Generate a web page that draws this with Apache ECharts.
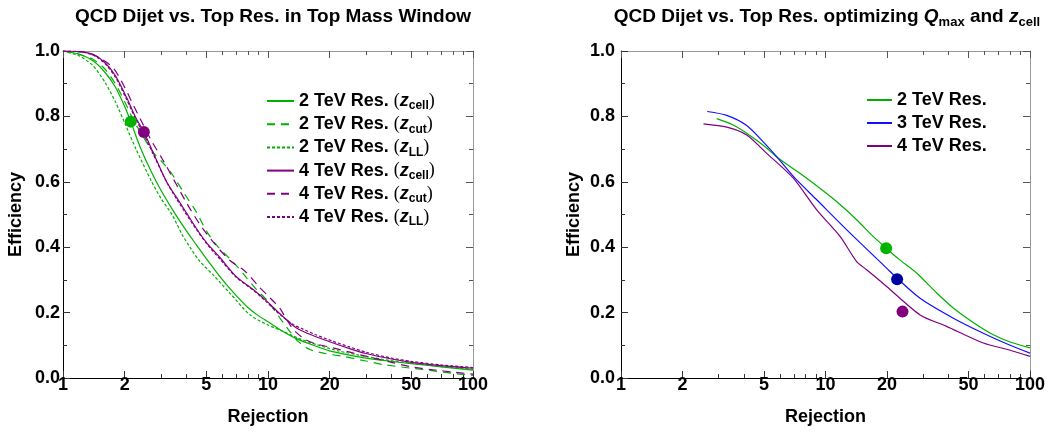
<!DOCTYPE html>
<html>
<head>
<meta charset="utf-8">
<script src="https://cdn.jsdelivr.net/npm/echarts@6/dist/echarts.min.js"></script>
<style>html,body{margin:0;padding:0;background:#fff}#c{width:1048px;height:437px}</style>
</head>
<body>
<div id="c"></div>
<script>
// ---------- tick values ----------
const xMajorTicks = [1, 2, 5, 10, 20, 50, 100];
const xMinorTicks = [3, 4, 6, 7, 8, 9, 30, 40, 60, 70, 80, 90];

// ---------- left panel: [rejection, efficiency] ----------
const g2Cell = [[1,1.0],[1.2,0.99],[1.4,0.97],[1.6,0.935],[1.8,0.89],[2.0,0.83],[2.14,0.784],[2.4,0.70],[2.7,0.63],[3.0,0.575],[3.5,0.505],[4.0,0.45],[4.5,0.405],[5.0,0.365],[6.0,0.30],[7.0,0.252],[8.0,0.215],[9.0,0.19],[10,0.172],[12,0.14],[14,0.118],[17,0.098],[20,0.083],[25,0.07],[30,0.061],[40,0.051],[50,0.044],[70,0.034],[100,0.024]];
const g2Cut = [[1,1.0],[1.2,0.99],[1.4,0.975],[1.6,0.945],[1.8,0.9],[2.0,0.845],[2.2,0.79],[2.45,0.74],[2.75,0.69],[3.05,0.66],[3.35,0.63],[3.9,0.565],[4.49,0.506],[5.0,0.45],[5.6,0.407],[6.5,0.365],[7.1,0.34],[7.9,0.305],[8.8,0.27],[9.86,0.239],[10.8,0.205],[11.9,0.168],[12.8,0.142],[14,0.112],[16,0.087],[19,0.075],[23.3,0.066],[30,0.052],[36.5,0.041],[50,0.03],[64,0.022],[80,0.014],[100,0.008]];
const g2LL = [[1,1.0],[1.2,0.985],[1.4,0.955],[1.6,0.905],[1.8,0.845],[2.0,0.78],[2.27,0.70],[2.71,0.60],[3.0,0.55],[3.4,0.50],[3.8,0.44],[4.16,0.40],[4.66,0.356],[5.5,0.31],[6.5,0.26],[8.17,0.193],[10,0.162],[11.9,0.142],[14,0.122],[17.3,0.102],[22,0.083],[30,0.066],[40,0.053],[50,0.045],[70,0.035],[100,0.026]];
const p4Cell = [[1,1.0],[1.2,0.998],[1.4,0.99],[1.6,0.965],[1.8,0.925],[2.05,0.856],[2.25,0.80],[2.48,0.752],[2.75,0.69],[3.2,0.6],[3.6,0.55],[4.0,0.505],[4.5,0.455],[5.0,0.415],[5.8,0.37],[7.0,0.31],[8.5,0.27],[9.86,0.235],[11.5,0.195],[13.3,0.16],[14.5,0.145],[17,0.127],[20.8,0.107],[25,0.09],[30,0.075],[40,0.058],[50,0.048],[70,0.038],[100,0.03]];
const p4Cut = [[1,1.0],[1.3,0.995],[1.5,0.98],[1.76,0.948],[1.97,0.897],[2.16,0.846],[2.37,0.795],[2.71,0.724],[3.03,0.673],[3.2,0.647],[4.01,0.535],[4.66,0.469],[5.5,0.41],[6.5,0.36],[7.6,0.33],[8.2,0.31],[9.0,0.28],[9.86,0.255],[11.4,0.214],[12.3,0.18],[13.3,0.148],[15,0.12],[17,0.105],[20.8,0.092],[30.3,0.066],[40,0.048],[49.3,0.035],[64,0.025],[80,0.018],[100,0.012]];
const p4LL = [[1,1.0],[1.2,0.998],[1.4,0.988],[1.6,0.962],[1.8,0.92],[2.05,0.85],[2.25,0.795],[2.5,0.74],[2.75,0.685],[3.2,0.6],[3.6,0.545],[4.0,0.5],[4.5,0.452],[5.0,0.412],[5.8,0.365],[7.0,0.308],[8.5,0.268],[9.86,0.232],[11.5,0.193],[13.3,0.163],[14.5,0.152],[17,0.133],[20.8,0.112],[25,0.095],[30,0.079],[40,0.061],[50,0.051],[70,0.04],[100,0.032]];
const leftDots = [[2.14, 0.784], [2.48, 0.752]];

// ---------- right panel ----------
const r2TeV = [[2.94,0.793],[3.5,0.775],[4.2,0.745],[5.0,0.71],[5.77,0.676],[7.5,0.626],[10.1,0.565],[11.55,0.535],[14.2,0.484],[17.1,0.433],[19.8,0.397],[23,0.362],[27.9,0.321],[35,0.26],[42,0.215],[51.9,0.173],[66.2,0.132],[80,0.11],[100,0.092]];
const r3TeV = [[2.64,0.815],[3.29,0.803],[4.12,0.772],[5.0,0.72],[5.77,0.677],[7.0,0.615],[9.06,0.545],[13.2,0.443],[19.9,0.336],[22.4,0.305],[29,0.244],[42.2,0.183],[59.1,0.137],[80,0.1],[100,0.076]];
const r4TeV = [[2.53,0.777],[3.29,0.767],[4.12,0.743],[5.16,0.687],[6.96,0.611],[9.06,0.514],[11.78,0.433],[14.2,0.356],[15.9,0.331],[19.9,0.28],[29,0.193],[39.1,0.158],[59.1,0.107],[80,0.085],[100,0.066]];
const rightDots = [[19.8, 0.397], [22.4, 0.302], [23.8, 0.203]];

const leftNames = ['2 TeV Res. (zcell)','2 TeV Res. (zcut)','2 TeV Res. (zLL)','4 TeV Res. (zcell)','4 TeV Res. (zcut)','4 TeV Res. (zLL)'];
const rightNames = ['2 TeV Res.','3 TeV Res.','4 TeV Res.'];

const FONT = "'Liberation Sans', Arial, Helvetica, sans-serif";
const GREEN = '#00b000', PURPLE = '#800080', BLUE = '#1010ff';

const richText = {
  b: {fontFamily: FONT, fontWeight: 'bold', fontSize: 18, lineHeight: 22, color: '#000'},
  p: {fontFamily: "'Liberation Serif', serif", fontSize: 18, lineHeight: 22, color: '#000'},
  i: {fontFamily: FONT, fontWeight: 'bold', fontStyle: 'italic', fontSize: 18, lineHeight: 22, color: '#000'},
  s: {fontFamily: FONT, fontWeight: 'bold', fontSize: 12, lineHeight: 12, padding: [10, 0, 0, 0], color: '#000'}
};

function xAxes(gridIndex) {
  const base = {type: 'log', logBase: 10, gridIndex: gridIndex, min: 1, max: 100, splitLine: {show: false}, minorSplitLine: {show: false}};
  return [
    Object.assign({}, base, {position: 'bottom',
      axisLine: {show: true, lineStyle: {color: '#000', width: 1}},
      axisTick: {show: true, inside: true, length: 7, customValues: xMajorTicks, lineStyle: {color: '#333'}},
      axisLabel: {show: true, customValues: xMajorTicks, margin: -2, color: '#000', fontFamily: FONT, fontWeight: 'bold', fontSize: 18, hideOverlap: false, showMinLabel: true, showMaxLabel: true},
      name: 'Rejection', nameLocation: 'middle', nameGap: 30,
      nameTextStyle: {color: '#000', fontFamily: FONT, fontWeight: 'bold', fontSize: 18}}),
    Object.assign({}, base, {position: 'bottom', axisLine: {show: false},
      axisTick: {show: true, inside: true, length: 4, customValues: xMinorTicks, lineStyle: {color: '#333'}},
      axisLabel: {show: false}}),
    Object.assign({}, base, {position: 'top',
      axisLine: {show: true, lineStyle: {color: '#999', width: 1}},
      axisTick: {show: true, inside: true, length: 7, customValues: xMajorTicks, lineStyle: {color: '#555'}},
      axisLabel: {show: false}}),
    Object.assign({}, base, {position: 'top', axisLine: {show: false},
      axisTick: {show: true, inside: true, length: 4, customValues: xMinorTicks, lineStyle: {color: '#555'}},
      axisLabel: {show: false}})
  ];
}
function yAxes(gridIndex, margin) {
  const base = {type: 'value', gridIndex: gridIndex, min: 0, max: 1, interval: 0.2, splitLine: {show: false}, minorSplitLine: {show: false}};
  return [
    Object.assign({}, base, {position: 'left',
      axisLine: {show: true, lineStyle: {color: '#000', width: 1}},
      axisTick: {show: true, inside: true, length: 7, lineStyle: {color: '#333'}},
      minorTick: {show: true, splitNumber: 2, length: 4, lineStyle: {color: '#333'}},
      axisLabel: {show: true, margin: margin, color: '#000', fontFamily: FONT, fontWeight: 'bold', fontSize: 18, formatter: v => v.toFixed(1)},
      name: 'Efficiency', nameLocation: 'middle', nameGap: 38,
      nameTextStyle: {color: '#000', fontFamily: FONT, fontWeight: 'bold', fontSize: 18}}),
    Object.assign({}, base, {position: 'right',
      axisLine: {show: true, lineStyle: {color: '#999', width: 1}},
      axisTick: {show: true, inside: true, length: 7, lineStyle: {color: '#555'}},
      minorTick: {show: true, splitNumber: 2, length: 4, lineStyle: {color: '#555'}},
      axisLabel: {show: false}})
  ];
}

function lineSeries(name, data, color, dash, xi, yi) {
  return {type: 'line', name: name, data: data, xAxisIndex: xi, yAxisIndex: yi,
    symbol: 'none', showSymbol: false, smooth: 0.25, animation: false,
    lineStyle: {color: color, width: 1.2, type: dash}, itemStyle: {color: color}, z: 2};
}

const leftLabels = {
  '2 TeV Res. (zcell)': '{b|2 TeV Res. }{p|(}{i|z}{s|cell}{p|)}',
  '2 TeV Res. (zcut)': '{b|2 TeV Res. }{p|(}{i|z}{s|cut}{p|)}',
  '2 TeV Res. (zLL)': '{b|2 TeV Res. }{p|(}{i|z}{s|LL}{p|)}',
  '4 TeV Res. (zcell)': '{b|4 TeV Res. }{p|(}{i|z}{s|cell}{p|)}',
  '4 TeV Res. (zcut)': '{b|4 TeV Res. }{p|(}{i|z}{s|cut}{p|)}',
  '4 TeV Res. (zLL)': '{b|4 TeV Res. }{p|(}{i|z}{s|LL}{p|)}'
};

const LONG = [8, 6], SHORT = [3, 2];
const series = [
  lineSeries(leftNames[0], g2Cell, GREEN, 'solid', 0, 0),
  lineSeries(leftNames[1], g2Cut, GREEN, LONG, 0, 0),
  lineSeries(leftNames[2], g2LL, GREEN, SHORT, 0, 0),
  lineSeries(leftNames[3], p4Cell, PURPLE, 'solid', 0, 0),
  lineSeries(leftNames[4], p4Cut, PURPLE, LONG, 0, 0),
  lineSeries(leftNames[5], p4LL, PURPLE, SHORT, 0, 0),
  {type: 'scatter', name: 'leftDots', xAxisIndex: 0, yAxisIndex: 0, symbolSize: 12, animation: false, z: 5,
    data: [{value: leftDots[0], itemStyle: {color: '#00b400', opacity: 1}}, {value: leftDots[1], itemStyle: {color: '#800080', opacity: 1}}]},
  lineSeries(rightNames[0], r2TeV, GREEN, 'solid', 4, 2),
  lineSeries(rightNames[1], r3TeV, BLUE, 'solid', 4, 2),
  lineSeries(rightNames[2], r4TeV, PURPLE, 'solid', 4, 2),
  {type: 'scatter', name: 'rightDots', xAxisIndex: 4, yAxisIndex: 2, symbolSize: 12, animation: false, z: 5,
    data: [{value: rightDots[0], itemStyle: {color: '#00b400', opacity: 1}}, {value: rightDots[1], itemStyle: {color: '#0000a0', opacity: 1}}, {value: rightDots[2], itemStyle: {color: '#800080', opacity: 1}}]}
];

const chart = echarts.init(document.getElementById('c'), null, {renderer: 'canvas'});
chart.setOption({
  animation: false,
  backgroundColor: '#fff',
  title: [
    {text: 'QCD Dijet vs. Top Res. in Top Mass Window', left: 268, top: 2, textAlign: 'center',
      textStyle: {fontFamily: FONT, fontWeight: 'bold', fontSize: 19, color: '#000'}},
    {text: '{b|QCD Dijet vs. Top Res. optimizing }{i|Q}{s|max}{b| and }{i|z}{s|cell}', left: 822, top: 1, textAlign: 'center',
      textStyle: {rich: {
        b: {fontFamily: FONT, fontWeight: 'bold', fontSize: 19, lineHeight: 22, color: '#000'},
        i: {fontFamily: FONT, fontWeight: 'bold', fontStyle: 'italic', fontSize: 19, lineHeight: 22, color: '#000'},
        s: {fontFamily: FONT, fontWeight: 'bold', fontSize: 13, lineHeight: 13, padding: [10, 0, 0, 0], color: '#000'}}}}
  ],
  grid: [
    {left: 63, top: 51, width: 410, height: 327, containLabel: false},
    {left: 621, top: 51, width: 409, height: 327, containLabel: false}
  ],
  xAxis: xAxes(0).concat(xAxes(1)),
  yAxis: yAxes(0, 3).concat(yAxes(1, 6)),
  legend: [
    {data: leftNames, orient: 'vertical', left: 266, top: 90, padding: 0, itemWidth: 27, itemHeight: 12, itemGap: 1.2,
      itemStyle: {opacity: 0, borderWidth: 0}, formatter: n => leftLabels[n], textStyle: {rich: richText, lineHeight: 22}, selectedMode: false},
    {data: rightNames, orient: 'vertical', left: 866, top: 89, padding: 0, itemWidth: 25, itemHeight: 12, itemGap: 1.0,
      itemStyle: {opacity: 0, borderWidth: 0}, formatter: n => '{b|' + n + '}', textStyle: {rich: richText, lineHeight: 22}, selectedMode: false}
  ],
  series: series
});
</script>
</body>
</html>
